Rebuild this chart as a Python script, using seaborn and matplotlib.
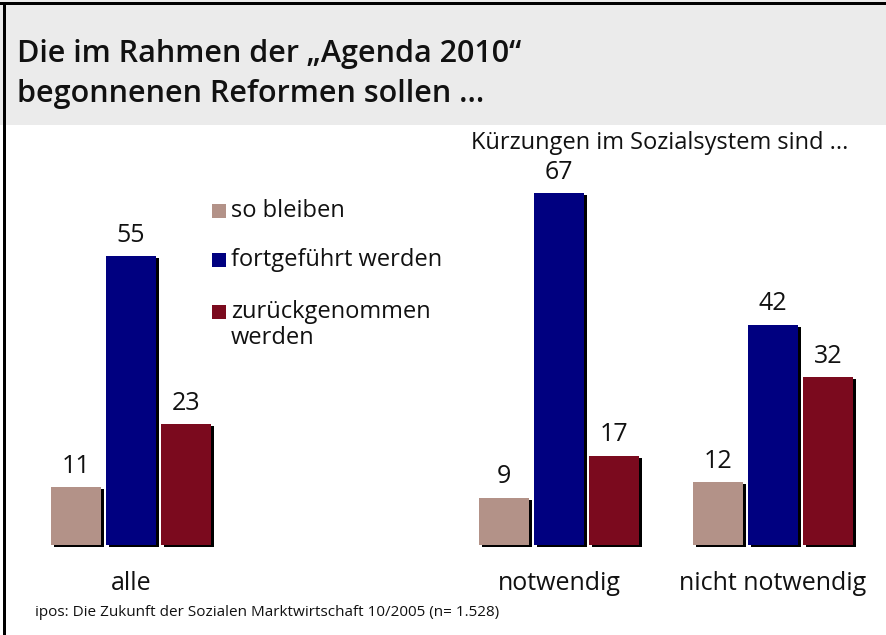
import matplotlib
matplotlib.use("Agg")
import matplotlib.pyplot as plt
import matplotlib.patheffects as pe
from matplotlib.patches import Rectangle
import pandas as pd
import seaborn as sns

# ---- data ----
groups = ["alle", " ", "notwendig", "nicht notwendig"]
series = ["so bleiben", "fortgeführt werden", "zurückgenommen\nwerden"]
so_bleiben = [11, 9, 12]
fortgefuehrt = [55, 67, 42]
zurueck = [23, 17, 32]
data_groups = ["alle", "notwendig", "nicht notwendig"]
colors = ["#b39288", "#000080", "#7b0a1e"]

title = "Die im Rahmen der „Agenda 2010“\nbegonnenen Reformen sollen ..."
subtitle = "Kürzungen im Sozialsystem sind ..."
source = "ipos: Die Zukunft der Sozialen Marktwirtschaft 10/2005 (n= 1.528)"

rows = []
for s, vals in zip(series, [so_bleiben, fortgefuehrt, zurueck]):
    for g, v in zip(data_groups, vals):
        rows.append({"Gruppe": g, "Antwort": s, "Wert": v})
df = pd.DataFrame(rows)

sns.set_theme(style="white")
plt.rcParams["font.family"] = ["Open Sans", "DejaVu Sans"]

W, H = 887, 635
fig = plt.figure(figsize=(W / 100, H / 100), dpi=100)
ax = fig.add_axes([0, 0, 1, 1])
ax.set_facecolor("none")

sns.barplot(data=df, x="Gruppe", y="Wert", hue="Antwort", order=groups,
            hue_order=series, palette=colors, width=0.771, gap=0.09,
            saturation=1, ax=ax, legend=False, zorder=3)

# pixel mapping: x=0 -> 131px, 214 px/unit; baseline at 545px, 5.25 px/unit
ax.set_xlim(-131 / 214, (W - 131) / 214)
ax.set_ylim(-(H - 545) / 5.25, 545 / 5.25)
ax.axis("off")

shadow = [pe.SimplePatchShadow(offset=(2.2, -1.6), shadow_rgbFace="black", alpha=1), pe.Normal()]
for p in ax.patches:
    p.set_path_effects(shadow)
    p.set_linewidth(0)

for c in ax.containers:
    ax.bar_label(c, padding=6, fontsize=18, color="#111111")

# category labels
for i, g in enumerate(groups):
    if g.strip():
        ax.text(i, -7.4, g, ha="center", va="center", fontsize=18, color="#111111")

# header
fig.patches.append(Rectangle((0, 1 - 125 / H), 1, 125 / H, transform=fig.transFigure,
                             facecolor="#ebebeb", edgecolor="none", zorder=0))
fig.patches.append(Rectangle((0, 1 - 5 / H), 1, 3 / H, transform=fig.transFigure,
                             facecolor="black", edgecolor="none", zorder=1))
fig.patches.append(Rectangle((3.5 / W, 0), 3 / W, 1 - 2 / H, transform=fig.transFigure,
                             facecolor="black", edgecolor="none", zorder=1))

fig.text(17 / W, 1 - 74 / H, title, ha="left", va="center", fontsize=22,
         fontweight="semibold", linespacing=1.45, color="#111111")
fig.text(660 / W, 1 - 143 / H, subtitle, ha="center", va="center", fontsize=17,
         color="#111111")
fig.text(35 / W, 1 - 612 / H, source, ha="left", va="center", fontsize=11,
         color="#111111")

# legend
leg_y = [211, 260, 312]
for lab, col, y in zip(series, colors, leg_y):
    fig.patches.append(Rectangle((212 / W, 1 - (y + 7) / H), 14 / W, 14 / H,
                                 transform=fig.transFigure, facecolor=col,
                                 edgecolor="none"))
    fig.text(231 / W, 1 - (y - 12) / H, lab, ha="left", va="top", fontsize=17,
             linespacing=1.1, color="#111111")

fig.savefig("out.png", dpi=100)
